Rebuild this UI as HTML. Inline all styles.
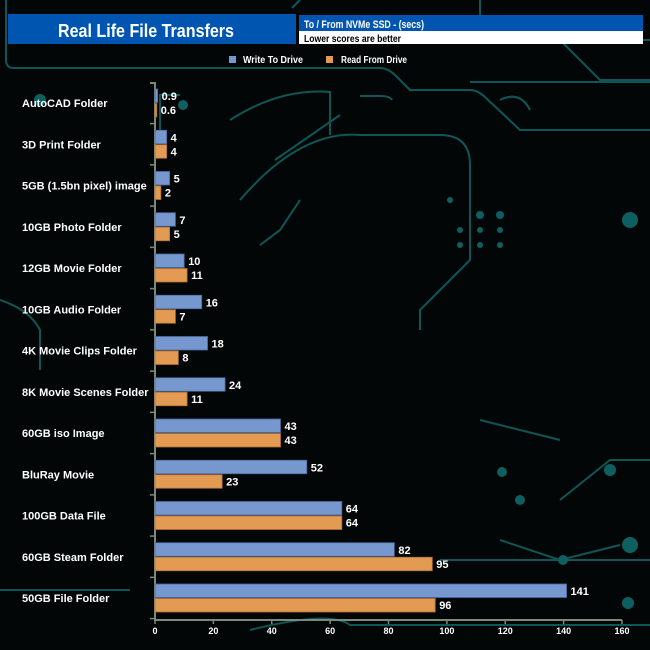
<!DOCTYPE html>
<html><head><meta charset="utf-8"><style>
body{margin:0;background:#000;}
svg{display:block;font-family:"Liberation Sans Narrow","Liberation Sans",Arial,sans-serif;font-weight:bold;}
</style></head><body>
<svg width="650" height="650" viewBox="0 0 650 650" xmlns="http://www.w3.org/2000/svg">
<rect width="650" height="650" fill="#030606"/>
<g fill="none" stroke="#0f5656" stroke-width="2">
<path d="M6 0 V60 Q6 68 14 68 H380 Q388 68 396 76 L410 90 H470 Q478 90 486 98 L520 130 H650"/>
<path d="M300 0 L292 8"/>
<path d="M480 0 V20 L500 40 H650"/>
<path d="M560 40 L600 80 H650"/>
<path d="M180 95 H160 V130"/>
<path d="M230 120 Q280 88 330 92 Q330 120 330 130 V135"/>
<path d="M360 96 H380 Q390 96 392 100"/>
<path d="M470 82 H650" />
<path d="M240 200 Q300 130 360 135 H440 Q470 135 470 165 V260 L420 310 V330"/>
<path d="M275 160 L340 115"/>
<path d="M0 300 Q30 310 40 330 V370"/>
<path d="M560 500 L610 460 H650"/>
<path d="M500 540 L560 560 L620 545"/>
<path d="M130 590 H0"/>
<path d="M300 200 L280 230 L260 245"/>
<path d="M440 560 H650"/>
<path d="M250 630 Q330 610 350 625 H650"/>
<path d="M480 420 L560 440"/>
<path d="M500 100 Q520 90 530 110"/>
</g>
<g fill="#0e6060">
<circle cx="40" cy="100" r="6"/><circle cx="183" cy="105" r="5"/>
<circle cx="502" cy="472" r="5"/><circle cx="630" cy="545" r="8"/>
<circle cx="628" cy="603" r="6"/><circle cx="563" cy="560" r="5"/>
<circle cx="520" cy="500" r="5"/><circle cx="610" cy="470" r="6"/>
<circle cx="450" cy="200" r="3"/><circle cx="480" cy="215" r="4"/><circle cx="500" cy="215" r="4"/>
<circle cx="460" cy="230" r="3"/><circle cx="480" cy="230" r="3"/><circle cx="500" cy="230" r="3"/>
<circle cx="460" cy="245" r="3"/><circle cx="480" cy="245" r="3"/><circle cx="500" cy="245" r="3"/>
<circle cx="630" cy="220" r="8"/>
</g>
<rect x="8" y="14" width="288" height="30" fill="#0055b0"/>
<text x="58" y="37" fill="#fff" font-size="18" textLength="176" lengthAdjust="spacingAndGlyphs">Real Life File Transfers</text>
<rect x="299" y="15" width="344" height="29" fill="#fff"/>
<rect x="299" y="15" width="344" height="16" fill="#0055b0"/>
<text x="304" y="28" fill="#fff" font-size="11" textLength="120" lengthAdjust="spacingAndGlyphs">To /  From NVMe  SSD - (secs)</text>
<text x="304" y="42" fill="#000" font-size="10.5" textLength="97" lengthAdjust="spacingAndGlyphs">Lower scores are better</text>
<rect x="229" y="56" width="7" height="7" fill="#7797cf"/>
<text x="243" y="63" fill="#fff" font-size="10" textLength="60" lengthAdjust="spacingAndGlyphs">Write To  Drive</text>
<rect x="326" y="56" width="7" height="7" fill="#e39a52"/>
<text x="341" y="63" fill="#fff" font-size="10" textLength="66" lengthAdjust="spacingAndGlyphs">Read From  Drive</text>
<g stroke="#7a8a7a" stroke-width="2" fill="none">
<path d="M150 83 H155 V620 H622"/>
</g>
<g id="bars" font-size="11" fill="#fff"></g>
<g font-size="9" fill="#fff" text-anchor="middle" id="ticks"></g>
<g font-size="11" fill="#fff" id="labels"></g>
<script>
var d=[["AutoCAD Folder",0.9,0.6],["3D Print Folder",4,4],["5GB (1.5bn pixel) image",5,2],["10GB Photo Folder",7,5],["12GB Movie Folder",10,11],["10GB Audio Folder",16,7],["4K Movie Clips Folder",18,8],["8K Movie Scenes Folder",24,11],["60GB iso Image",43,43],["BluRay Movie",52,23],["100GB Data File",64,64],["60GB Steam Folder",82,95],["50GB File Folder",141,96]];
var ns="http://www.w3.org/2000/svg",s=467/160,x0=155;
function el(p,t,a,txt){var e=document.createElementNS(ns,t);for(var k in a)e.setAttribute(k,a[k]);if(txt!==undefined)e.textContent=txt;document.getElementById(p).appendChild(e);}
d.forEach(function(r,i){var c=103+41.25*i;
el("labels","text",{x:22,y:c+4},r[0]);
el("bars","rect",{x:x0,y:c-14,width:r[1]*s,height:13.5,fill:"#7797cf",stroke:"#4a6aa0","stroke-width":0.8});
el("bars","rect",{x:x0,y:c+0.5,width:r[2]*s,height:13.5,fill:"#e39a52",stroke:"#b07030","stroke-width":0.8});
el("bars","text",{x:x0+r[1]*s+4,y:c-3},String(r[1]));
el("bars","text",{x:x0+r[2]*s+4,y:c+11},String(r[2]));
el("ticks","line",{x1:150,x2:155,y1:c+20.6,y2:c+20.6,stroke:"#7a8a7a","stroke-width":1.5});
});
for(var v=0;v<=160;v+=20){var x=x0+v*s;el("ticks","line",{x1:x,x2:x,y1:620,y2:624,stroke:"#7a8a7a","stroke-width":1.5});el("ticks","text",{x:x,y:634},String(v));}
</script>
</svg>
</body></html>
